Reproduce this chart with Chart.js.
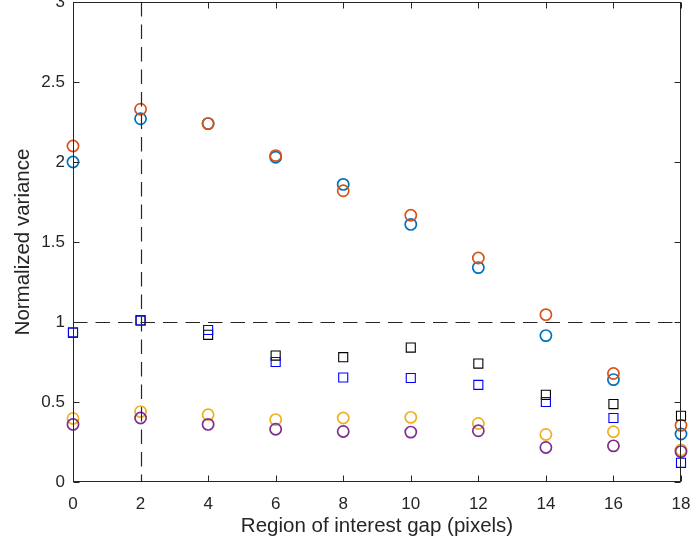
<!DOCTYPE html>
<html>
<head>
<meta charset="utf-8">
<script src="https://cdn.jsdelivr.net/npm/chart.js@4.4.1/dist/chart.umd.min.js"></script>
<style>
  html, body { margin: 0; padding: 0; background: #fff; }
  #wrap { width: 691px; height: 550px; }
</style>
</head>
<body>
<div id="wrap"><canvas id="chart" width="691" height="550"></canvas></div>
<script>
// Values
var gaps = [0, 2, 4, 6, 8, 10, 12, 14, 16, 18];
var blueCircles   = [2.00, 2.27, 2.24, 2.03, 1.86, 1.61, 1.34, 0.915, 0.64, 0.30];
var orangeCircles = [2.10, 2.33, 2.24, 2.04, 1.82, 1.667, 1.40, 1.046, 0.678, 0.354];
var yellowCircles = [0.397, 0.44, 0.42, 0.39, 0.40, 0.404, 0.366, 0.297, 0.314, 0.20];
var purpleCircles = [0.36, 0.40, 0.36, 0.33, 0.316, 0.312, 0.32, 0.216, 0.226, 0.19];
var blackSquares  = [0.934, 1.01, 0.92, 0.79, 0.78, 0.84, 0.74, 0.545, 0.487, 0.414];
var blueSquares   = [0.934, 1.01, 0.95, 0.75, 0.653, 0.65, 0.607, 0.50, 0.40, 0.12];
var refGap = 2;
var refVariance = 1;

var axisColor = '#262626';
var fontFamily = '"Liberation Sans", Arial, Helvetica, sans-serif';

function toPoints(values) {
  return gaps.map(function (g, i) {
    return { x: g, y: values[i] };
  });
}

function circleSet(values, color, order) {
  return {
    data: toPoints(values),
    pointStyle: 'circle',
    pointRadius: 5.6,
    pointBorderWidth: 1.7,
    borderColor: color,
    backgroundColor: 'rgba(0,0,0,0)',
    clip: false,
    order: order
  };
}

function squareSet(values, color, order) {
  return {
    data: toPoints(values),
    pointStyle: 'rect',
    pointRadius: 6.4,
    pointBorderWidth: 1.1,
    borderColor: color,
    backgroundColor: 'rgba(0,0,0,0)',
    clip: false,
    order: order
  };
}

/**
 * Plugin: box round the axes, inward ticks, dashed reference lines
 */
var matlabAxes = {
  id: 'matlabAxes',
  afterDatasetsDraw: function (chart) {
    var ctx = chart.ctx;
    var area = chart.chartArea;
    var xs = chart.scales.x;
    var ys = chart.scales.y;

    ctx.save();
    // dashed reference lines
    ctx.strokeStyle = axisColor;
    ctx.lineWidth = 1.2;
    ctx.setLineDash([14.5, 8]);
    var px = Math.round(xs.getPixelForValue(refGap)) + 0.5;
    var py = Math.round(ys.getPixelForValue(refVariance)) + 0.5;
    ctx.beginPath();
    ctx.moveTo(px, area.top);
    ctx.lineTo(px, area.bottom);
    ctx.moveTo(area.left, py);
    ctx.lineTo(area.right, py);
    ctx.stroke();
    ctx.setLineDash([]);

    // box
    ctx.strokeStyle = axisColor;
    ctx.lineWidth = 1;
    var l = Math.round(area.left) + 0.5, r = Math.round(area.right) - 0.5;
    var t = Math.round(area.top) + 0.5, b = Math.round(area.bottom) - 0.5;
    ctx.strokeRect(l, t, r - l, b - t);

    // inward ticks
    var len = 6;
    ctx.beginPath();
    xs.ticks.forEach(function (tk) {
      var x = Math.round(xs.getPixelForValue(tk.value)) + 0.5;
      ctx.moveTo(x, b);
      ctx.lineTo(x, b - len);
      ctx.moveTo(x, t);
      ctx.lineTo(x, t + len);
    });
    ys.ticks.forEach(function (tk) {
      var y = Math.round(ys.getPixelForValue(tk.value)) + 0.5;
      ctx.moveTo(l, y);
      ctx.lineTo(l + len, y);
      ctx.moveTo(r, y);
      ctx.lineTo(r - len, y);
    });
    ctx.stroke();
    ctx.restore();
  }
};

var ctx = document.getElementById('chart').getContext('2d');
var chart = new Chart(ctx, {
  type: 'scatter',
  data: {
    datasets: [
      circleSet(blueCircles, '#0072BD', 6),
      circleSet(orangeCircles, '#D95319', 5),
      circleSet(yellowCircles, '#EDB120', 4),
      circleSet(purpleCircles, '#7E2F8E', 3),
      squareSet(blackSquares, '#000000', 2),
      squareSet(blueSquares, '#0000FF', 1)
    ]
  },
  options: {
    responsive: false,
    animation: false,
    layout: {
      autoPadding: false, // markers may hang over the plot edges, as in the original
      padding: { top: 2, right: 10, left: 0, bottom: 0 }
    },
    plugins: {
      legend: { display: false },
      tooltip: { enabled: false }
    },
    scales: {
      x: {
        type: 'linear',
        min: 0,
        max: 18,
        grid: { display: false, drawTicks: false },
        border: { display: false },
        ticks: {
          stepSize: 2,
          padding: 12,
          color: axisColor,
          maxRotation: 0,
          font: { family: fontFamily, size: 17 }
        },
        title: {
          display: true,
          text: 'Region of interest gap (pixels)',
          color: axisColor,
          padding: { top: 0, bottom: 11 },
          font: { family: fontFamily, size: 20.5 }
        },
        afterFit: function (scale) {
          scale.height = 68;
          scale.paddingLeft = 0;
          scale.paddingRight = 0;
        }
      },
      y: {
        type: 'linear',
        min: 0,
        max: 3,
        grid: { display: false, drawTicks: false },
        border: { display: false },
        ticks: {
          stepSize: 0.5,
          padding: 8,
          color: axisColor,
          font: { family: fontFamily, size: 17 },
          callback: function (value) {
            return String(value);
          }
        },
        title: {
          display: true,
          text: 'Normalized variance',
          color: axisColor,
          padding: { top: 11, bottom: 0 },
          font: { family: fontFamily, size: 20.5 }
        },
        afterFit: function (scale) {
          scale.width = 73;
          scale.paddingTop = 0;
          scale.paddingBottom = 0;
        }
      }
    }
  },
  plugins: [matlabAxes]
});
</script>
</body>
</html>
